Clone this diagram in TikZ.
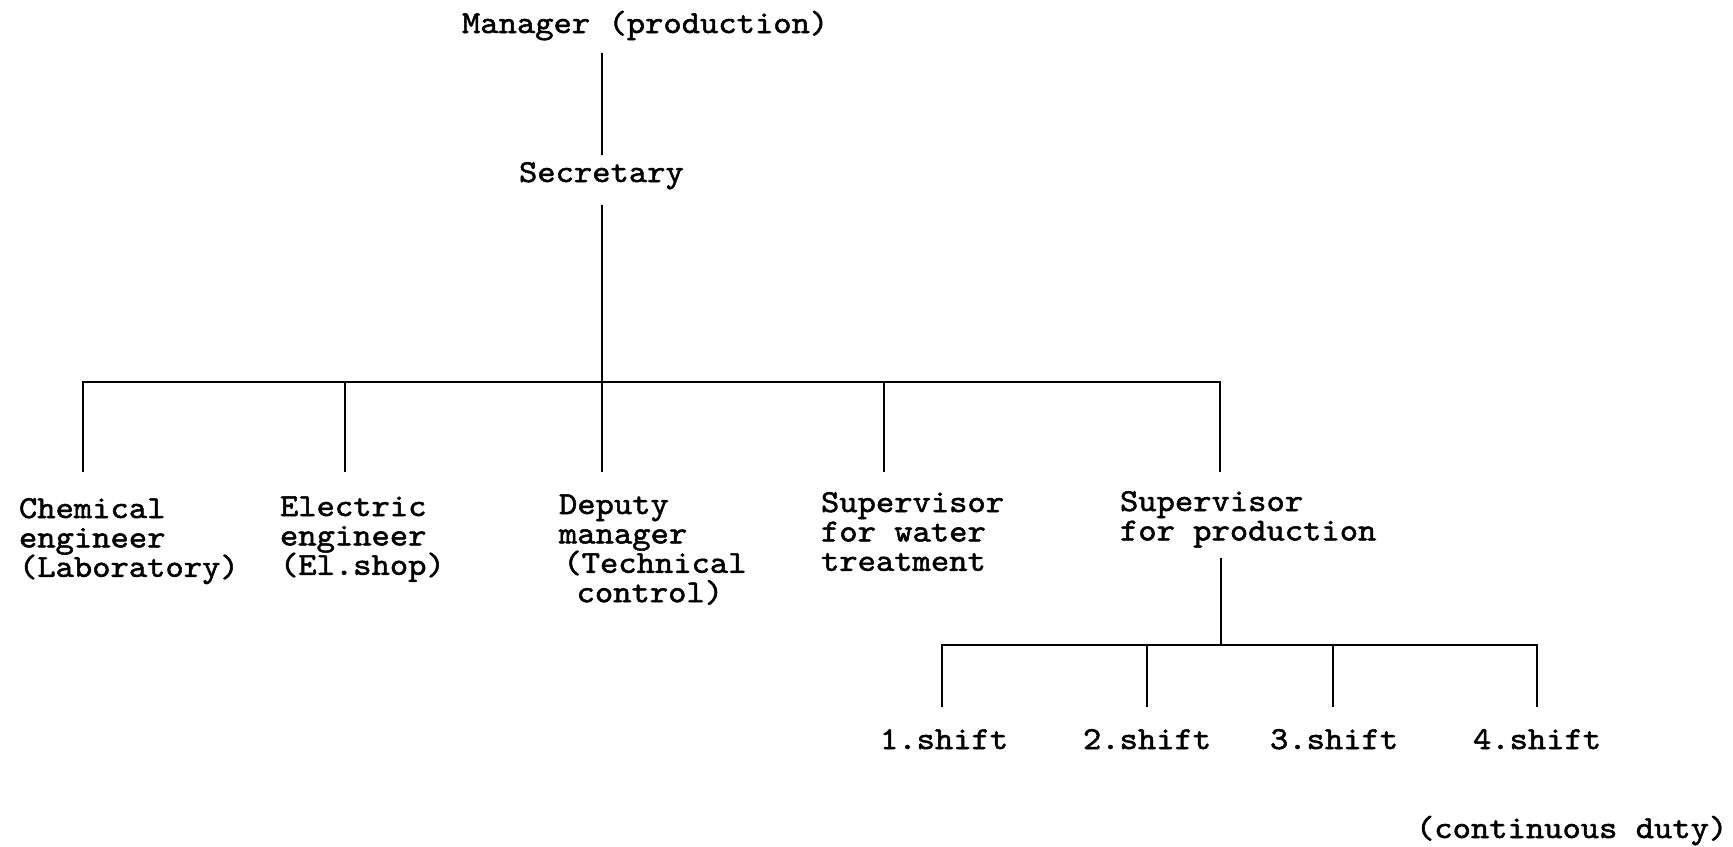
\documentclass[tikz,border=0pt]{standalone}
\usepackage{fontspec}
\newfontfamily\typew{lmmono10-regular.otf}[FakeBold=1.6,FakeStretch=1.09]
\newcommand{\ml}[1]{\begin{tabular}[t]{@{}l@{}}#1\end{tabular}}
\newcommand{\sm}[1]{\smash{#1}}
\begin{document}
\begin{tikzpicture}[x=0.5pt,y=-0.5pt,
  lbl/.style={inner sep=0pt, outer sep=0pt, anchor=base west,
    font=\typew\fontsize{16}{14.7}\selectfont},
  conn/.style={line width=0.75pt}]
\useasboundingbox (0,0) rectangle (1733,846);
% texts
\node[lbl] (mgr) at (462,33) {Manager (production)};
\node[lbl] (sec) at (519,182) {Secretary};
\node[lbl] (chem) at (19,518) {\ml{\sm{Chemical}\\\sm{engineer}\\\sm{(Laboratory)}}};
\node[lbl] (elec) at (280,516) {\ml{\sm{Electric}\\\sm{engineer}\\\sm{(El.shop)}}};
\node[lbl] (dep) at (559,514) {\ml{\sm{Deputy}\\\sm{manager}\\\sm{\hspace*{2.2pt}(Technical}\\\sm{\hspace*{8.8pt}control)}}};
\node[lbl] (wat) at (821,512) {\ml{\sm{Supervisor}\\\sm{for water}\\\sm{treatment}}};
\node[lbl] (prod) at (1120,511) {\ml{\sm{Supervisor}\\\sm{for production}}};
\node[lbl] (sh1) at (880,749) {1.shift};
\node[lbl] (sh2) at (1083,749) {2.shift};
\node[lbl] (sh3) at (1270,749) {3.shift};
\node[lbl] (sh4) at (1473,749) {4.shift};
\node[lbl] (cont) at (1416,838) {(continuous duty)};
% connector ends
\coordinate (mgrB) at (602,53);
\coordinate (secT) at (602,155);
\coordinate (secB) at (602,205);
\coordinate (bus) at (602,382);
\coordinate (d1) at (83,472);
\coordinate (d2) at (345,472);
\coordinate (d3) at (602,472);
\coordinate (d4) at (884,472);
\coordinate (d5) at (1220,472);
\coordinate (prodB) at (1221,558);
\coordinate (sbus) at (1221,645);
\coordinate (e1) at (942,707);
\coordinate (e2) at (1147,707);
\coordinate (e3) at (1333,707);
\coordinate (e4) at (1537,707);
% connectors
\draw[conn] (mgrB) -- (secT);
\draw[conn] (secB) -- (d3);
\draw[conn] (d1) |- (d5 |- bus) -- (d5);
\draw[conn] (d2) -- (d2 |- bus);
\draw[conn] (d4) -- (d4 |- bus);
\draw[conn] (prodB) -- (sbus);
\draw[conn] (e1) |- (e4 |- sbus) -- (e4);
\draw[conn] (e2) -- (e2 |- sbus);
\draw[conn] (e3) -- (e3 |- sbus);
\end{tikzpicture}
\end{document}
